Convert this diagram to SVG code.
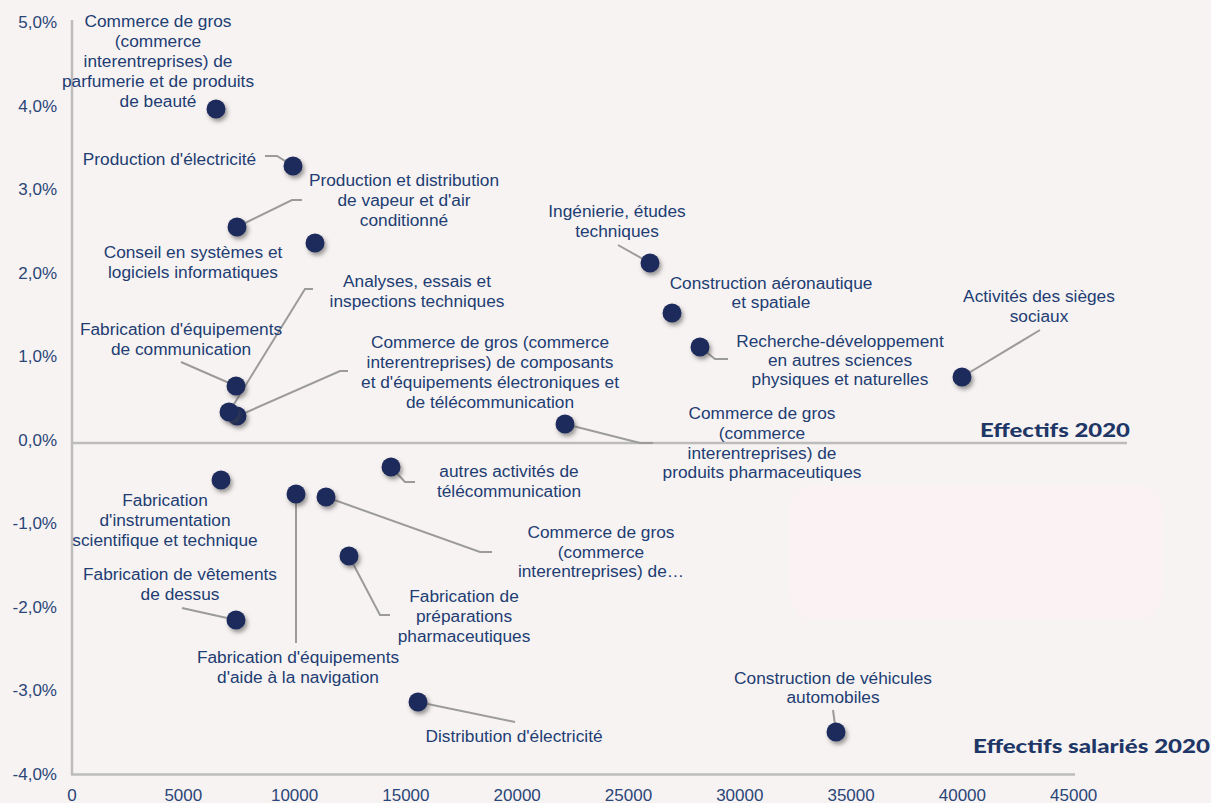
<svg xmlns="http://www.w3.org/2000/svg" width="1211" height="803" viewBox="0 0 1211 803">
<defs>
<filter id="sh" x="-50%" y="-50%" width="200%" height="200%">
<feDropShadow dx="2" dy="3" stdDeviation="2" flood-color="#444" flood-opacity="0.55"/>
</filter>
<style>
.bg{fill:#f8f3f3}
.t{font-family:"Liberation Sans",Arial,sans-serif;font-size:17.3px;fill:#213d72;text-anchor:middle}
.ax{font-family:"Liberation Sans",Arial,sans-serif;font-size:17px;fill:#2a4677}
.ya{text-anchor:end}
.xa{text-anchor:middle}
.dot{fill:#1b2a5c;filter:url(#sh)}
.ld{fill:none;stroke:#9b9b9b;stroke-width:2}
.axis{stroke:#bcbcbc;stroke-width:2.5;fill:none}
.ttl{font-family:Lato,"Inter",sans-serif;font-weight:900;font-size:19px;fill:#1e3766}
</style>
</defs>
<rect class="bg" x="0" y="0" width="1211" height="803"/>
<rect x="790" y="485" width="372" height="135" rx="26" fill="#fbf3f3"/>

<g id="axes">
<line class="axis" x1="72" y1="20" x2="72" y2="775"/>
<line class="axis" x1="71" y1="774.5" x2="1075" y2="774.5"/>
<line class="axis" x1="72" y1="443" x2="1127" y2="443"/>
<g class="ax ya">
<text x="57" y="28">5,0%</text>
<text x="57" y="111.5">4,0%</text>
<text x="57" y="195">3,0%</text>
<text x="57" y="278.5">2,0%</text>
<text x="57" y="362">1,0%</text>
<text x="57" y="445.5">0,0%</text>
<text x="57" y="529">-1,0%</text>
<text x="57" y="612.5">-2,0%</text>
<text x="57" y="696">-3,0%</text>
<text x="57" y="779.5">-4,0%</text>
</g>
<g class="ax xa">
<text x="72" y="801">0</text>
<text x="183.3" y="801">5000</text>
<text x="294.6" y="801">10000</text>
<text x="405.9" y="801">15000</text>
<text x="517.2" y="801">20000</text>
<text x="628.5" y="801">25000</text>
<text x="739.8" y="801">30000</text>
<text x="851.1" y="801">35000</text>
<text x="962.4" y="801">40000</text>
<text x="1073.7" y="801">45000</text>
</g>
<text class="ttl" x="980" y="437" textLength="150" lengthAdjust="spacingAndGlyphs">Effectifs 2020</text>
<text class="ttl" x="973" y="753" textLength="237" lengthAdjust="spacingAndGlyphs">Effectifs salariés 2020</text>
</g>

<g id="connectors">
<polyline class="ld" points="265,156 277,156 293,166"/>
<polyline class="ld" points="237,227 292,200 302,200"/>
<polyline class="ld" points="618,245 650,263"/>
<polyline class="ld" points="700,347 715,359 728,359"/>
<polyline class="ld" points="1040,330 962,377"/>
<polyline class="ld" points="181,362 236,386"/>
<polyline class="ld" points="313,289 305,289 231,409"/>
<polyline class="ld" points="348,371 340,371 238,416"/>
<polyline class="ld" points="565,424 640,443 653,443"/>
<polyline class="ld" points="391,467 405,482 415,482"/>
<polyline class="ld" points="326,497 480,552 492,552"/>
<polyline class="ld" points="349,556 380,615 390,615"/>
<polyline class="ld" points="296,494 296,643"/>
<polyline class="ld" points="182,608 236,620"/>
<polyline class="ld" points="418,702 515,722"/>
<polyline class="ld" points="833,710 836,732"/>
</g>

<g id="n-parfumerie">
<circle class="dot" cx="216" cy="109" r="9.5"/>
<text class="t" x="158" y="27">Commerce de gros</text>
<text class="t" x="158" y="47">(commerce</text>
<text class="t" x="158" y="67">interentreprises) de</text>
<text class="t" x="158" y="87">parfumerie et de produits</text>
<text class="t" x="158" y="107">de beauté</text>
</g>
<g id="n-prod-elec">
<circle class="dot" cx="293" cy="166" r="9.5"/>
<text class="t" x="169.5" y="165">Production d'électricité</text>
</g>
<g id="n-vapeur">
<circle class="dot" cx="237" cy="227" r="9.5"/>
<text class="t" x="404" y="186">Production et distribution</text>
<text class="t" x="404" y="206">de vapeur  et d'air</text>
<text class="t" x="404" y="226">conditionné</text>
</g>
<g id="n-conseil">
<circle class="dot" cx="315" cy="243" r="9.5"/>
<text class="t" x="193" y="258">Conseil en systèmes et</text>
<text class="t" x="193" y="278">logiciels informatiques</text>
</g>
<g id="n-ingenierie">
<circle class="dot" cx="650" cy="263" r="9.5"/>
<text class="t" x="617" y="217">Ingénierie, études</text>
<text class="t" x="617" y="237">techniques</text>
</g>
<g id="n-aero">
<circle class="dot" cx="672" cy="313" r="9.5"/>
<text class="t" x="771" y="289">Construction aéronautique</text>
<text class="t" x="771" y="308">et spatiale</text>
</g>
<g id="n-recherche">
<circle class="dot" cx="700" cy="347" r="9.5"/>
<text class="t" x="840" y="347">Recherche-développement</text>
<text class="t" x="840" y="366">en autres sciences</text>
<text class="t" x="840" y="385">physiques et naturelles</text>
</g>
<g id="n-sieges">
<circle class="dot" cx="962" cy="377" r="9.5"/>
<text class="t" x="1039" y="302">Activités  des sièges</text>
<text class="t" x="1039" y="322">sociaux</text>
</g>
<g id="n-composants">
<circle class="dot" cx="237" cy="416" r="9.5"/>
<text class="t" x="490" y="348">Commerce de gros (commerce</text>
<text class="t" x="490" y="368">interentreprises) de composants</text>
<text class="t" x="490" y="388">et d'équipements  électroniques  et</text>
<text class="t" x="490" y="408">de télécommunication</text>
</g>
<g id="n-analyses">
<circle class="dot" cx="229" cy="412" r="9.5"/>
<text class="t" x="417" y="287">Analyses, essais et</text>
<text class="t" x="417" y="307">inspections techniques</text>
</g>
<g id="n-equip-comm">
<circle class="dot" cx="236" cy="386" r="9.5"/>
<text class="t" x="181" y="335">Fabrication d'équipements</text>
<text class="t" x="181" y="355">de communication</text>
</g>
<g id="n-pharma-gros">
<circle class="dot" cx="565" cy="424" r="9.5"/>
<text class="t" x="762" y="419">Commerce de gros</text>
<text class="t" x="762" y="439">(commerce</text>
<text class="t" x="762" y="459">interentreprises) de</text>
<text class="t" x="762" y="478">produits pharmaceutiques</text>
</g>
<g id="n-telecom">
<circle class="dot" cx="391" cy="467" r="9.5"/>
<text class="t" x="509" y="477">autres activités  de</text>
<text class="t" x="509" y="497">télécommunication</text>
</g>
<g id="n-instrumentation">
<circle class="dot" cx="221" cy="480" r="9.5"/>
<text class="t" x="165" y="506">Fabrication</text>
<text class="t" x="165" y="526">d'instrumentation</text>
<text class="t" x="165" y="546">scientifique et technique</text>
</g>
<g id="n-navigation">
<circle class="dot" cx="296" cy="494" r="9.5"/>
<text class="t" x="298" y="663">Fabrication d'équipements</text>
<text class="t" x="298" y="683">d'aide à la navigation</text>
</g>
<g id="n-commerce-autre">
<circle class="dot" cx="326" cy="497" r="9.5"/>
<text class="t" x="601" y="538">Commerce de gros</text>
<text class="t" x="601" y="558">(commerce</text>
<text class="t" x="601" y="577">interentreprises) de…</text>
</g>
<g id="n-preparations">
<circle class="dot" cx="349" cy="556" r="9.5"/>
<text class="t" x="464" y="602">Fabrication de</text>
<text class="t" x="464" y="622">préparations</text>
<text class="t" x="464" y="642">pharmaceutiques</text>
</g>
<g id="n-vetements">
<circle class="dot" cx="236" cy="620" r="9.5"/>
<text class="t" x="180" y="580">Fabrication de vêtements</text>
<text class="t" x="180" y="600">de dessus</text>
</g>
<g id="n-distribution">
<circle class="dot" cx="418" cy="702" r="9.5"/>
<text class="t" x="514" y="742">Distribution d'électricité</text>
</g>
<g id="n-vehicules">
<circle class="dot" cx="836" cy="732" r="9.5"/>
<text class="t" x="833" y="684">Construction de véhicules</text>
<text class="t" x="833" y="703">automobiles</text>
</g>
</svg>
